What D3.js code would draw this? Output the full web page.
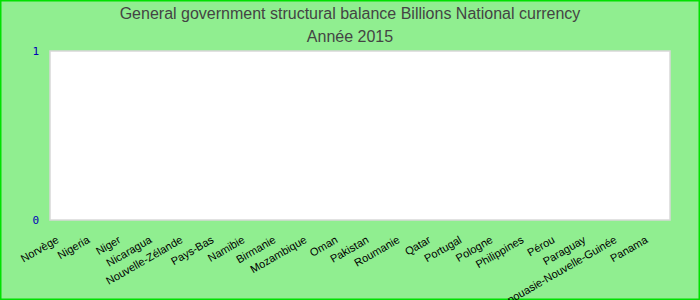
<html>
<head>
	<meta charset="utf-8">
	<script src="https://d3js.org/d3.v7.min.js"></script>
	<style>
		body { margin: 0; background: #fff; }
		text { font-family: "Liberation Sans", Arial, sans-serif; }
	</style>
</head>
<body>
	<div id="chart"></div>
</body>

<script>
var titleLines = ["General government structural balance Billions National currency", "Année 2015"]
var countries = ["Norvège", "Nigeria", "Niger", "Nicaragua", "Nouvelle-Zélande", "Pays-Bas", "Namibie", "Birmanie", "Mozambique", "Oman",
	"Pakistan", "Roumanie", "Qatar", "Portugal", "Pologne", "Philippines", "Pérou", "Paraguay", "Papouasie-Nouvelle-Guinée", "Panama"]
// no values are shown for 2015
var values = [null, null, null, null, null, null, null, null, null, null,
	null, null, null, null, null, null, null, null, null, null]
var yTicks = [0, 1]

var width = 700
var height = 300
var plot = {left: 50, top: 51, right: 670, bottom: 220}

var svg = d3.select("#chart")
	.append("svg")
	.attr("width", width)
	.attr("height", height)

svg.append("rect")
	.attr("x", 0.5)
	.attr("y", 0.5)
	.attr("width", width - 1)
	.attr("height", height - 1)
	.style("fill", "#90ee90")
	.style("stroke", "#00e000")
	.style("stroke-width", 2)

svg.selectAll(".title")
	.data(titleLines)
	.enter()
	.append("text")
	.attr("class", "title")
	.attr("x", width / 2)
	.attr("y", function(d, i){ return 19 + i * 23 })
	.attr("text-anchor", "middle")
	.style("font-size", "16px")
	.style("fill", "#444")
	.text(function(d){ return d })

var x = d3.scaleBand()
	.domain(countries)
	.range([plot.left, plot.right])

var y = d3.scaleLinear()
	.domain([0, 1])
	.range([plot.bottom, plot.top])

svg.append("rect")
	.attr("x", plot.left)
	.attr("y", plot.top)
	.attr("width", plot.right - plot.left)
	.attr("height", plot.bottom - plot.top)
	.style("fill", "#fff")
	.style("stroke", "#d8d8d8")
	.style("stroke-width", 1.5)

svg.selectAll(".bar")
	.data(countries.map(function(c, i){ return {name: c, value: values[i]} }).filter(function(d){ return d.value != null }))
	.enter()
	.append("rect")
	.attr("class", "bar")
	.attr("x", function(d){ return x(d.name) + x.bandwidth() * 0.1 })
	.attr("width", x.bandwidth() * 0.8)
	.attr("y", function(d){ return y(Math.max(0, d.value)) })
	.attr("height", function(d){ return Math.abs(y(d.value) - y(0)) })
	.style("fill", "#4472c4")

svg.selectAll(".ytick")
	.data(yTicks)
	.enter()
	.append("text")
	.attr("class", "ytick")
	.attr("x", 39)
	.attr("y", function(d){ return y(d) + 4 })
	.attr("text-anchor", "end")
	.style("font-family", "'DejaVu Sans Mono', monospace")
	.style("font-size", "11px")
	.style("fill", "#0000b8")
	.text(function(d){ return d })

svg.selectAll(".xlabel")
	.data(countries)
	.enter()
	.append("text")
	.attr("class", "xlabel")
	.attr("text-anchor", "end")
	.attr("transform", function(d){
		var cx = x(d) + x.bandwidth() / 2 - 6
		return "translate(" + cx + ",242) rotate(-30)"
	})
	.style("font-size", "11px")
	.style("fill", "#000")
	.text(function(d){ return d })
</script>
</html>
